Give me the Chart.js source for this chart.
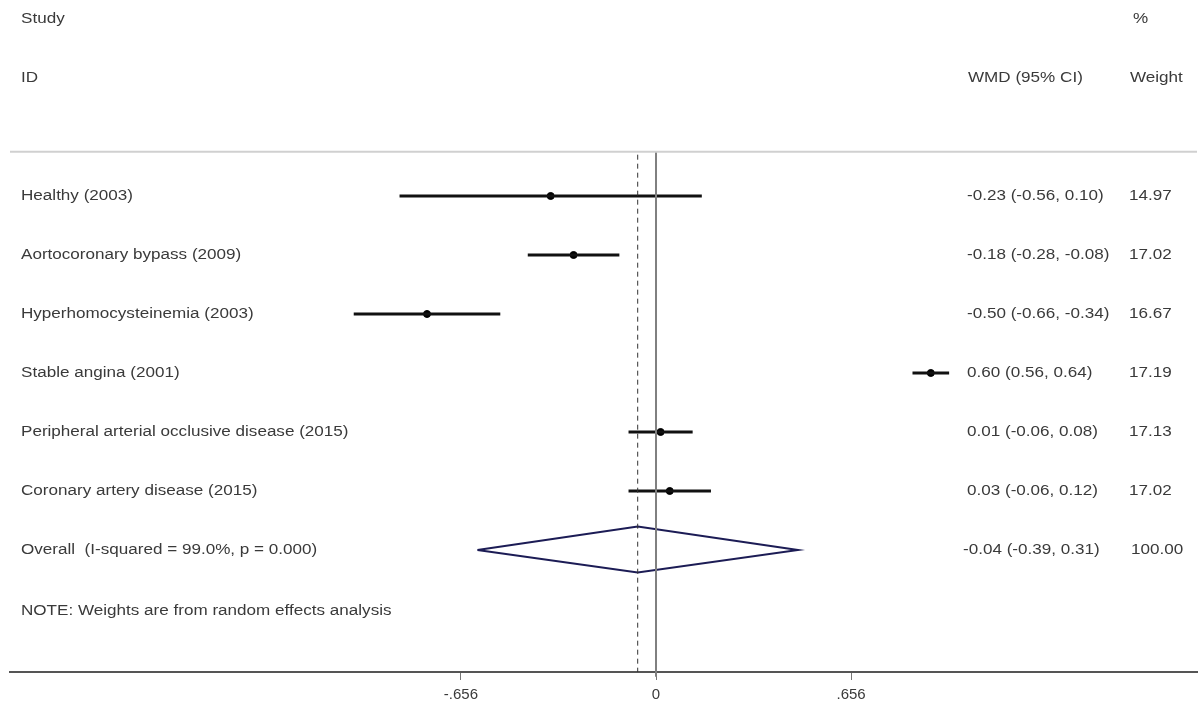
<!DOCTYPE html>
<html>
<head>
<meta charset="utf-8">
<script src="https://cdn.jsdelivr.net/npm/chart.js@4.4.1/dist/chart.umd.min.js"></script>
<style>
    html, body { margin: 0; padding: 0; background: #fff; }
    #wrap { width: 1202px; height: 711px; position: relative; }
</style>
</head>
<body>
<div id="wrap"><canvas id="forestChart"></canvas></div>
<script>
// study data
const studies = ['Healthy (2003)', 'Aortocoronary bypass (2009)', 'Hyperhomocysteinemia (2003)',
    'Stable angina (2001)', 'Peripheral arterial occlusive disease (2015)', 'Coronary artery disease (2015)'];
const wmd = [-0.23, -0.18, -0.50, 0.60, 0.01, 0.03];
const lower = [-0.56, -0.28, -0.66, 0.56, -0.06, -0.06];
const upper = [0.10, -0.08, -0.34, 0.64, 0.08, 0.12];
const weights = ['14.97', '17.02', '16.67', '17.19', '17.13', '17.02'];

const overallLabel = 'Overall  (I-squared = 99.0%, p = 0.000)';
const overall = [-0.04, -0.39, 0.31]; // estimate, lower, upper
const overallWeight = '100.00';
const note = 'NOTE: Weights are from random effects analysis';

// x axis ticks as printed (positions as drawn in the original)
const tickValues = [-0.426, 0, 0.426];
const tickLabels = ['-.656', '0', '.656'];

const textColor = '#3a3a3a';
const font = '14px "Liberation Sans", Arial, sans-serif';
const stretch = 1.22; // text in the original is drawn wide
const fmt = v => v.toFixed(2);

const rowOverall = studies.length + 1;
const rowNote = studies.length + 2.03;
const yMin = -2.237, yMax = 9.068, ruleRow = 0.25;
const xMin = -1.4105, xMax = 1.1812;

const datasets = [];

// header rule
datasets.push({
    data: [{ x: xMin, y: ruleRow }, { x: xMax, y: ruleRow }],
    showLine: true, borderColor: '#d0d0d0', borderWidth: 2, pointRadius: 0
});
// null line
datasets.push({
    data: [{ x: 0, y: ruleRow }, { x: 0, y: yMax + 0.08 }],
    showLine: true, borderColor: '#808080', borderWidth: 2, pointRadius: 0, clip: false
});
// overall effect line
datasets.push({
    data: [{ x: overall[0], y: ruleRow + 0.05 }, { x: overall[0], y: yMax }],
    showLine: true, borderColor: '#333', borderWidth: 1, borderDash: [5, 4], pointRadius: 0
});
// confidence intervals
studies.forEach((s, i) => {
    datasets.push({
        data: [{ x: lower[i], y: i + 1 }, { x: upper[i], y: i + 1 }],
        showLine: true, borderColor: '#111', borderWidth: 3, pointRadius: 0
    });
});
// point estimates
datasets.push({
    data: wmd.map((v, i) => ({ x: v, y: i + 1 })),
    pointStyle: 'circle', pointRadius: 3.5, backgroundColor: '#000', borderColor: '#000', borderWidth: 1
});
// overall diamond
datasets.push({
    data: [
        { x: overall[1], y: rowOverall },
        { x: overall[0], y: rowOverall - 0.4 },
        { x: overall[2], y: rowOverall },
        { x: overall[0], y: rowOverall + 0.38 },
        { x: overall[1], y: rowOverall }
    ],
    showLine: true, borderColor: '#1c1c55', borderWidth: 2, pointRadius: 0, fill: false
});

const textPlugin = {
    id: 'forestText',
    afterDatasetsDraw(chart) {
        const ctx = chart.ctx;
        const y = chart.scales.y;
        ctx.save();
        ctx.font = font;
        ctx.fillStyle = textColor;
        ctx.textBaseline = 'middle';
        ctx.textAlign = 'left';
        const put = (t, x, row) => {
            ctx.save();
            ctx.translate(x, y.getPixelForValue(row));
            ctx.scale(stretch, 1);
            ctx.fillText(t, 0, 0);
            ctx.restore();
        };
        put('Study', 21, -2);
        put('ID', 21, -1);
        put('%', 1133, -2);
        put('WMD (95% CI)', 968, -1);
        put('Weight', 1130, -1);
        studies.forEach((s, i) => {
            put(s, 21, i + 1);
            put(fmt(wmd[i]) + ' (' + fmt(lower[i]) + ', ' + fmt(upper[i]) + ')', 967, i + 1);
            put(weights[i], 1129, i + 1);
        });
        put(overallLabel, 21, rowOverall);
        put(fmt(overall[0]) + ' (' + fmt(overall[1]) + ', ' + fmt(overall[2]) + ')', 963, rowOverall);
        put(overallWeight, 1131, rowOverall);
        put(note, 21, rowNote);
        ctx.restore();
    }
};

new Chart(document.getElementById('forestChart'), {
    type: 'scatter',
    data: { datasets: datasets },
    options: {
        responsive: true,
        maintainAspectRatio: false,
        animation: false,
        events: [],
        layout: { padding: { left: 10, top: 5, right: 0, bottom: 0 } },
        plugins: { legend: { display: false }, tooltip: { enabled: false } },
        scales: {
            x: {
                type: 'linear',
                min: xMin,
                max: xMax,
                afterBuildTicks: axis => { axis.ticks = tickValues.map(v => ({ value: v })); },
                afterFit: axis => { axis.height = 39; },
                border: { color: '#555', width: 2 },
                grid: { drawOnChartArea: false, tickLength: 8, color: '#777', lineWidth: 1 },
                ticks: {
                    color: textColor,
                    font: { family: '"Liberation Sans", Arial, sans-serif', size: 15 },
                    padding: 6,
                    maxRotation: 0,
                    autoSkip: false,
                    callback: (v, i) => tickLabels[i]
                }
            },
            y: {
                type: 'linear',
                reverse: true,
                min: yMin,
                max: yMax,
                display: false
            }
        }
    },
    plugins: [textPlugin]
});
</script>
</body>
</html>
